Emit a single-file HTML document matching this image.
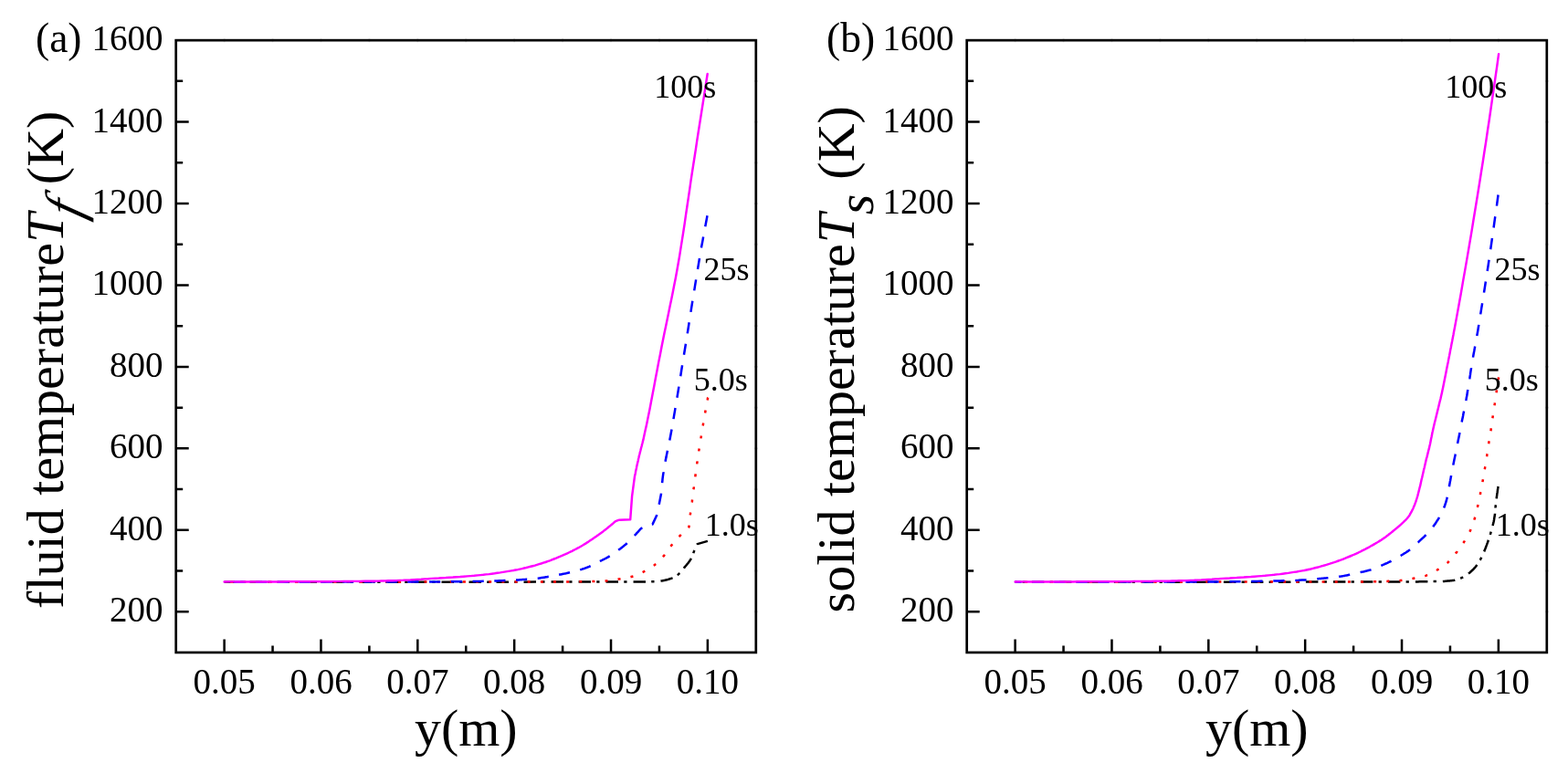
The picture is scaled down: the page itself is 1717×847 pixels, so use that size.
<!DOCTYPE html>
<html lang="en"><head><meta charset="utf-8"><title>Fluid and solid temperature profiles</title>
<style>html,body{margin:0;padding:0;background:#fff}body{width:1717px;height:847px;overflow:hidden}svg{display:block}</style>
</head><body>
<svg width="1717" height="847" viewBox="0 0 1717 847" font-family="'Liberation Serif', 'Times New Roman', serif" fill="#000">
<rect width="1717" height="847" fill="#fff"/>
<g>
<path d="M245.6 637.7 L283.5 637.7 L321.3 637.7 L359.2 637.7 L397.1 637.7 L434.9 637.7 L472.8 637.7 L510.7 637.7 L548.5 637.7 L586.4 637.6 L624.3 637.6 L662.1 637.6 L700.0 637.5 L701.1 637.5 L702.3 637.5 L703.5 637.5 L704.6 637.5 L705.8 637.5 L706.9 637.5 L708.0 637.5 L709.2 637.4 L710.3 637.4 L711.5 637.4 L712.6 637.3 L713.8 637.3 L714.6 637.3 L715.4 637.2 L716.2 637.2 L717.0 637.2 L717.8 637.1 L718.6 637.0 L719.5 637.0 L720.3 636.9 L721.1 636.8 L721.9 636.8 L722.7 636.7 L723.5 636.6 L724.7 636.5 L725.8 636.3 L727.0 636.1 L728.2 635.8 L729.3 635.5 L730.5 635.2 L731.7 634.9 L732.8 634.5 L734.0 634.1 L735.2 633.7 L736.3 633.3 L737.5 632.8 L738.1 632.5 L738.7 632.3 L739.2 631.9 L739.8 631.6 L740.4 631.2 L741.0 630.8 L741.6 630.4 L742.2 629.9 L742.8 629.4 L743.3 628.9 L743.9 628.4 L744.5 627.9 L744.9 627.5 L745.3 627.1 L745.7 626.6 L746.1 626.2 L746.5 625.6 L747.0 625.1 L747.4 624.6 L747.8 624.1 L748.2 623.5 L748.6 623.0 L749.0 622.4 L749.4 621.9 L750.0 621.1 L750.7 620.3 L751.3 619.6 L752.0 618.8 L752.6 618.0 L753.2 617.3 L753.9 616.4 L754.5 615.6 L755.2 614.7 L755.8 613.7 L756.5 612.6 L757.1 611.5 L757.4 611.0 L757.6 610.4 L757.9 609.8 L758.1 609.2 L758.4 608.5 L758.7 607.8 L758.9 607.0 L759.2 606.3 L759.4 605.6 L759.7 604.9 L759.9 604.2 L760.2 603.5 L760.4 603.0 L760.6 602.5 L760.8 602.0 L761.0 601.5 L761.2 601.0 L761.4 600.5 L761.6 600.0 L761.8 599.5 L762.0 599.1 L762.2 598.6 L762.4 598.1 L762.6 597.6 L763.6 596.1 L774.9 592.9" fill="none" stroke="#000" stroke-width="2.5" stroke-linejoin="round" stroke-dasharray="13.5 6.2 3.3 7" stroke-dashoffset="2.07"/>
<path d="M245.6 637.7 L275.1 637.7 L304.7 637.7 L334.2 637.7 L363.7 637.7 L393.3 637.7 L422.8 637.7 L452.3 637.6 L481.9 637.6 L511.4 637.6 L540.9 637.6 L570.5 637.5 L600.0 637.5 L603.3 637.5 L606.7 637.5 L610.0 637.5 L613.3 637.5 L616.7 637.4 L620.0 637.4 L623.3 637.4 L626.7 637.4 L630.0 637.3 L633.3 637.3 L636.7 637.2 L640.0 637.2 L642.1 637.2 L644.2 637.1 L646.4 637.1 L648.5 637.0 L650.6 637.0 L652.8 636.9 L654.9 636.8 L657.0 636.7 L659.1 636.6 L661.2 636.5 L663.4 636.4 L665.5 636.3 L666.7 636.2 L667.8 636.1 L669.0 636.0 L670.2 635.8 L671.3 635.6 L672.5 635.4 L673.7 635.2 L674.8 635.0 L676.0 634.8 L677.2 634.6 L678.3 634.4 L679.5 634.2 L680.7 634.0 L681.8 633.8 L683.0 633.6 L684.2 633.4 L685.3 633.2 L686.5 633.0 L687.7 632.8 L688.8 632.5 L690.0 632.3 L691.2 632.0 L692.3 631.7 L693.5 631.4 L694.6 631.1 L695.7 630.7 L696.8 630.3 L697.9 629.8 L699.0 629.3 L700.1 628.8 L701.3 628.3 L702.4 627.7 L703.5 627.2 L704.6 626.6 L705.7 626.0 L706.8 625.4 L707.8 624.8 L708.9 624.2 L709.9 623.6 L711.0 623.0 L712.0 622.3 L713.0 621.7 L714.1 621.0 L715.1 620.2 L716.2 619.5 L717.2 618.7 L718.3 617.9 L719.3 617.0 L720.1 616.3 L720.9 615.5 L721.8 614.7 L722.6 613.9 L723.4 613.0 L724.2 612.1 L725.0 611.2 L725.8 610.2 L726.6 609.3 L727.5 608.3 L728.3 607.3 L729.1 606.3 L729.7 605.5 L730.4 604.6 L731.0 603.7 L731.7 602.8 L732.3 601.9 L733.0 600.9 L733.6 600.0 L734.2 599.1 L734.9 598.1 L735.5 597.3 L736.2 596.4 L736.8 595.6 L737.6 594.6 L738.4 593.7 L739.2 592.8 L740.0 591.9 L740.8 591.0 L741.6 590.1 L742.4 589.3 L743.2 588.4 L744.0 587.6 L744.8 586.8 L745.6 586.1 L746.4 585.3 L746.9 584.8 L747.4 584.4 L747.9 583.9 L748.4 583.5 L748.9 583.0 L749.5 582.6 L750.0 582.2 L750.5 581.8 L751.0 581.4 L751.5 581.0 L752.0 580.6 L752.5 580.2 L754.4 577.5 L755.8 563.8 L756.0 562.7 L756.1 561.6 L756.3 560.4 L756.5 559.3 L756.7 558.1 L756.8 556.9 L757.0 555.6 L757.2 554.4 L757.4 553.1 L757.5 551.8 L757.7 550.5 L757.9 549.2 L758.0 548.1 L758.2 547.0 L758.3 545.8 L758.5 544.6 L758.6 543.4 L758.8 542.2 L758.9 541.0 L759.0 539.8 L759.2 538.6 L759.3 537.4 L759.5 536.2 L759.6 535.1 L759.8 533.9 L759.9 532.7 L760.1 531.5 L760.2 530.3 L760.4 529.1 L760.5 528.0 L760.7 526.8 L760.9 525.6 L761.0 524.5 L761.2 523.3 L761.3 522.2 L761.5 521.0 L761.7 519.8 L761.8 518.6 L762.0 517.4 L762.1 516.2 L762.3 515.0 L762.5 513.8 L762.6 512.6 L762.8 511.4 L762.9 510.3 L763.1 509.1 L763.2 507.9 L763.4 506.8 L763.6 505.6 L763.8 504.3 L763.9 503.1 L764.1 501.9 L764.3 500.7 L764.5 499.5 L764.6 498.4 L764.8 497.2 L765.0 496.0 L765.1 494.9 L765.3 493.7 L765.5 492.6 L765.7 491.4 L765.9 490.2 L766.0 489.1 L766.2 487.9 L766.4 486.8 L766.6 485.7 L766.8 484.5 L767.0 483.4 L767.2 482.3 L767.3 481.2 L767.5 480.0 L767.7 478.9 L767.9 477.7 L768.1 476.5 L768.3 475.3 L768.5 474.1 L768.7 472.9 L768.9 471.7 L769.0 470.5 L769.2 469.4 L769.4 468.2 L769.6 467.0 L769.8 465.9 L770.0 464.7 L770.2 463.5 L770.4 462.2 L770.6 461.0 L770.8 459.8 L771.0 458.6 L771.2 457.3 L771.5 456.1 L771.7 454.9 L771.9 453.7 L772.1 452.6 L772.3 451.4 L772.5 450.2 L772.7 449.1 L772.9 448.0 L773.1 446.8 L773.3 445.7 L773.5 444.6 L773.7 443.5 L773.9 442.4 L774.1 441.3 L774.3 440.2 L774.5 439.2 L774.7 438.1 L774.9 437.0 L774.9 436.9 L775.0 436.7 L775.0 436.6 L775.0 436.5 L775.0 436.3 L775.0 436.2 L775.1 436.1 L775.1 435.9 L775.1 435.8 L775.2 435.7 L775.2 435.5 L775.2 435.4" fill="none" stroke="#f00" stroke-width="2.5" stroke-linejoin="round" stroke-dasharray="3 11.15" stroke-dashoffset="7.53"/>
<path d="M245.6 637.7 L265.1 637.7 L284.7 637.7 L304.2 637.7 L323.7 637.7 L343.3 637.7 L362.8 637.6 L382.3 637.6 L401.9 637.6 L421.4 637.5 L440.9 637.5 L460.5 637.5 L480.0 637.4 L484.2 637.4 L488.3 637.4 L492.5 637.3 L496.7 637.3 L500.8 637.2 L505.0 637.2 L509.2 637.1 L513.3 637.1 L517.5 637.0 L521.7 636.9 L525.8 636.9 L530.0 636.8 L532.9 636.7 L535.7 636.7 L538.5 636.6 L541.4 636.5 L544.2 636.4 L547.1 636.3 L550.0 636.2 L552.8 636.1 L555.7 636.0 L558.5 635.9 L561.4 635.7 L564.2 635.6 L565.2 635.5 L566.2 635.5 L567.2 635.4 L568.2 635.4 L569.2 635.3 L570.2 635.2 L571.1 635.2 L572.1 635.1 L573.1 635.0 L574.1 634.9 L575.1 634.9 L576.1 634.8 L577.1 634.7 L578.1 634.7 L579.1 634.6 L580.1 634.5 L581.1 634.4 L582.0 634.4 L583.0 634.3 L584.0 634.2 L585.0 634.1 L586.0 634.0 L587.0 633.9 L588.0 633.8 L589.0 633.7 L590.0 633.6 L591.0 633.4 L591.9 633.3 L592.9 633.1 L593.9 633.0 L594.9 632.8 L595.9 632.7 L596.8 632.5 L597.8 632.3 L598.8 632.2 L599.8 632.0 L600.7 631.8 L601.7 631.7 L602.6 631.5 L603.5 631.4 L604.5 631.2 L605.4 631.0 L606.3 630.9 L607.3 630.7 L608.2 630.5 L609.1 630.4 L610.1 630.2 L611.0 630.0 L612.0 629.8 L613.0 629.6 L614.0 629.4 L615.0 629.2 L616.0 629.0 L617.0 628.8 L617.9 628.6 L618.9 628.4 L619.9 628.2 L620.9 627.9 L621.9 627.7 L622.9 627.5 L623.9 627.3 L624.9 627.0 L625.9 626.8 L626.9 626.6 L627.9 626.3 L628.8 626.1 L629.8 625.9 L630.8 625.6 L631.8 625.3 L632.8 625.1 L633.8 624.8 L634.8 624.5 L635.7 624.2 L636.7 623.9 L637.6 623.6 L638.5 623.3 L639.5 623.0 L640.4 622.7 L641.3 622.3 L642.3 622.0 L643.2 621.6 L644.1 621.3 L645.1 620.9 L646.0 620.5 L646.9 620.1 L647.9 619.7 L648.8 619.2 L649.7 618.8 L650.6 618.3 L651.5 617.8 L652.5 617.3 L653.4 616.9 L654.3 616.4 L655.2 615.9 L656.2 615.4 L657.1 614.9 L658.0 614.5 L658.9 614.0 L659.7 613.6 L660.6 613.1 L661.5 612.7 L662.4 612.3 L663.2 611.8 L664.1 611.4 L665.0 610.9 L665.9 610.4 L666.7 609.9 L667.6 609.4 L668.5 608.9 L669.4 608.3 L670.2 607.7 L671.1 607.2 L672.0 606.6 L672.9 606.0 L673.7 605.3 L674.6 604.7 L675.5 604.1 L676.4 603.4 L677.2 602.8 L678.1 602.1 L678.9 601.5 L679.7 600.9 L680.5 600.2 L681.4 599.6 L682.2 598.9 L683.0 598.3 L683.8 597.6 L684.6 596.9 L685.5 596.2 L686.3 595.5 L687.1 594.7 L687.9 594.0 L688.6 593.3 L689.3 592.7 L690.0 592.0 L690.7 591.2 L691.4 590.5 L692.1 589.8 L692.8 589.0 L693.5 588.3 L694.2 587.5 L694.9 586.8 L695.6 586.0 L696.3 585.3 L696.9 584.6 L697.5 584.0 L698.1 583.3 L698.8 582.6 L699.4 581.9 L700.0 581.2 L700.6 580.5 L701.2 579.9 L701.9 579.2 L702.5 578.7 L703.1 578.2 L703.7 577.7 L704.1 577.4 L704.6 577.1 L705.0 576.8 L705.5 576.6 L705.9 576.3 L706.4 576.1 L706.8 575.8 L707.2 575.6 L707.7 575.4 L708.1 575.2 L708.6 575.1 L709.0 574.9 L714.6 574.4 L719.0 565.0 L721.8 552.2 L723.9 541.6 L724.1 539.6 L724.3 537.6 L724.5 535.6 L724.6 533.7 L724.8 531.8 L725.0 530.0 L725.2 528.2 L725.4 526.5 L725.5 524.8 L725.7 523.3 L725.9 521.8 L726.1 520.4 L726.5 517.9 L726.8 515.6 L727.1 513.5 L727.5 511.4 L727.9 509.5 L728.2 507.6 L728.5 505.8 L728.9 504.1 L729.2 502.3 L729.6 500.6 L729.9 498.8 L730.3 497.0 L730.6 495.5 L730.9 494.0 L731.2 492.6 L731.5 491.2 L731.8 489.8 L732.0 488.4 L732.3 487.0 L732.6 485.7 L732.9 484.2 L733.2 482.8 L733.5 481.3 L733.8 479.8 L735.2 472.3 L736.6 464.6 L737.9 456.6 L739.3 448.4 L740.7 440.1 L742.1 431.6 L743.5 423.0 L744.9 414.4 L746.2 405.7 L747.6 397.1 L749.0 388.5 L750.4 380.0 L751.7 371.9 L753.0 363.8 L754.3 355.5 L755.6 347.2 L756.9 338.9 L758.2 330.6 L759.6 322.3 L760.9 314.1 L762.2 306.0 L763.5 298.0 L764.8 290.1 L766.1 282.4 L766.8 278.3 L767.5 274.2 L768.2 270.1 L769.0 266.1 L769.7 262.1 L770.4 258.2 L771.1 254.2 L771.8 250.4 L772.6 246.5 L773.3 242.7 L774.0 238.9 L774.7 235.1" fill="none" stroke="#00f" stroke-width="2.5" stroke-linejoin="round" stroke-dasharray="12.2 11.55" stroke-dashoffset="13.04"/>
<path d="M245.6 637.5 L252.6 637.4 L259.7 637.4 L266.7 637.4 L273.7 637.4 L280.8 637.4 L287.8 637.4 L294.8 637.4 L301.9 637.4 L308.9 637.4 L315.9 637.3 L323.0 637.3 L330.0 637.3 L335.8 637.3 L341.7 637.3 L347.5 637.2 L353.3 637.2 L359.2 637.2 L365.0 637.1 L370.8 637.1 L376.7 637.0 L382.5 637.0 L388.3 636.9 L394.2 636.9 L400.0 636.8 L402.5 636.8 L405.0 636.7 L407.5 636.7 L410.0 636.7 L412.5 636.6 L415.0 636.6 L417.5 636.5 L420.0 636.5 L422.5 636.4 L425.0 636.3 L427.5 636.3 L430.0 636.2 L433.9 636.1 L437.8 635.9 L441.6 635.8 L445.5 635.6 L449.4 635.4 L453.3 635.1 L457.2 634.9 L461.1 634.7 L465.0 634.4 L468.8 634.2 L472.7 633.9 L476.6 633.7 L480.5 633.5 L484.4 633.2 L488.2 633.0 L492.1 632.7 L496.0 632.5 L499.9 632.2 L503.8 632.0 L507.7 631.7 L511.6 631.4 L515.4 631.1 L519.3 630.8 L523.2 630.4 L526.3 630.1 L529.3 629.8 L532.4 629.4 L535.5 629.1 L538.5 628.7 L541.6 628.3 L544.7 627.8 L547.7 627.4 L550.8 626.9 L553.9 626.4 L556.9 625.9 L560.0 625.4 L562.3 625.0 L564.7 624.5 L567.0 624.1 L569.3 623.6 L571.7 623.1 L574.0 622.5 L576.3 622.0 L578.7 621.4 L581.0 620.8 L583.3 620.2 L585.7 619.6 L588.0 618.9 L590.3 618.2 L592.6 617.5 L595.0 616.7 L597.3 616.0 L599.6 615.1 L602.0 614.3 L604.3 613.4 L606.6 612.5 L608.9 611.6 L611.2 610.6 L613.6 609.7 L615.9 608.7 L617.6 607.9 L619.4 607.2 L621.1 606.4 L622.9 605.5 L624.6 604.7 L626.4 603.8 L628.1 602.9 L629.9 602.0 L631.6 601.1 L633.4 600.2 L635.1 599.2 L636.9 598.2 L638.1 597.5 L639.2 596.8 L640.4 596.1 L641.6 595.4 L642.7 594.6 L643.9 593.9 L645.1 593.1 L646.2 592.3 L647.4 591.5 L648.6 590.7 L649.7 589.9 L650.9 589.1 L651.9 588.4 L653.0 587.7 L654.0 586.9 L655.1 586.2 L656.1 585.4 L657.1 584.7 L658.2 583.9 L659.2 583.2 L660.3 582.4 L661.3 581.6 L662.4 580.8 L663.4 580.0 L663.9 579.6 L664.5 579.1 L665.0 578.7 L665.6 578.3 L666.1 577.8 L666.7 577.3 L667.2 576.9 L667.8 576.4 L668.4 576.0 L668.9 575.5 L669.5 575.1 L670.0 574.6 L670.3 574.3 L670.7 574.0 L671.0 573.8 L671.3 573.5 L671.7 573.2 L672.0 572.9 L672.3 572.6 L672.7 572.3 L673.0 572.1 L673.3 571.8 L673.7 571.5 L674.0 571.2 L678.2 569.7 L690.2 569.3 L692.1 543.7 L695.0 522.0 L695.4 520.2 L695.8 518.4 L696.1 516.6 L696.5 514.8 L696.9 513.0 L697.2 511.3 L697.6 509.5 L698.0 507.8 L698.4 506.1 L698.8 504.5 L699.1 502.8 L699.5 501.2 L699.9 499.3 L700.4 497.5 L700.8 495.8 L701.3 494.0 L701.7 492.3 L702.1 490.7 L702.6 489.0 L703.0 487.2 L703.5 485.5 L703.9 483.7 L704.4 481.9 L704.8 480.0 L706.4 472.6 L708.1 464.9 L709.7 456.9 L711.4 448.7 L713.0 440.2 L714.6 431.7 L716.3 423.0 L717.9 414.3 L719.6 405.6 L721.2 396.9 L722.9 388.4 L724.5 380.0 L726.0 372.4 L727.5 364.9 L729.1 357.5 L730.6 350.2 L732.1 342.9 L733.6 335.5 L735.2 328.0 L736.7 320.5 L738.2 312.7 L739.8 304.7 L741.3 296.5 L742.8 288.0 L744.2 280.0 L745.5 271.6 L746.9 262.9 L748.3 254.0 L749.7 244.9 L751.0 235.6 L752.4 226.3 L753.8 216.9 L755.2 207.5 L756.5 198.2 L757.9 189.0 L759.3 180.0 L760.6 171.7 L761.9 163.4 L763.1 155.1 L764.4 146.8 L765.7 138.5 L767.0 130.3 L768.3 122.0 L769.6 113.8 L770.9 105.6 L772.1 97.4 L773.4 89.2 L774.7 81.0" fill="none" stroke="#f0f" stroke-width="2.45" stroke-linecap="round" stroke-linejoin="round" />
<rect x="192.70" y="44.15" width="635.10" height="670.80" fill="none" stroke="#000" stroke-width="2.7"/>
<path d="M192.70 670.23h14.0M192.70 625.51h7.5M192.70 580.79h14.0M192.70 536.07h7.5M192.70 491.35h14.0M192.70 446.63h7.5M192.70 401.91h14.0M192.70 357.19h7.5M192.70 312.47h14.0M192.70 267.75h7.5M192.70 223.03h14.0M192.70 178.31h7.5M192.70 133.59h14.0M192.70 88.87h7.5M245.63 714.95v-14.5M298.55 714.95v-7.5M351.47 714.95v-14.5M404.40 714.95v-7.5M457.32 714.95v-14.5M510.25 714.95v-7.5M563.17 714.95v-14.5M616.10 714.95v-7.5M669.02 714.95v-14.5M721.95 714.95v-7.5M774.87 714.95v-14.5" stroke="#000" stroke-width="2.5" fill="none"/>
<path d="M825.80 670.23h4M825.80 625.51h4M825.80 580.79h4M825.80 536.07h4M825.80 491.35h4M825.80 446.63h4M825.80 401.91h4M825.80 357.19h4M825.80 312.47h4M825.80 267.75h4M825.80 223.03h4M825.80 178.31h4M825.80 133.59h4M825.80 88.87h4M245.63 42.15v4M298.55 42.15v4M351.47 42.15v4M404.40 42.15v4M457.32 42.15v4M510.25 42.15v4M563.17 42.15v4M616.10 42.15v4M669.02 42.15v4M721.95 42.15v4M774.87 42.15v4" stroke="#000" stroke-opacity="0.13" stroke-width="1.8" fill="none"/>
<g font-size="39" text-anchor="end">
<text x="178.5" y="681.1">200</text>
<text x="178.5" y="591.7">400</text>
<text x="178.5" y="502.2">600</text>
<text x="178.5" y="412.8">800</text>
<text x="178.5" y="323.4">1000</text>
<text x="178.5" y="233.9">1200</text>
<text x="178.5" y="144.5">1400</text>
<text x="178.5" y="55.0">1600</text>
</g><g font-size="39" text-anchor="middle">
<text x="245.6" y="759.7">0.05</text>
<text x="351.5" y="759.7">0.06</text>
<text x="457.3" y="759.7">0.07</text>
<text x="563.2" y="759.7">0.08</text>
<text x="669.0" y="759.7">0.09</text>
<text x="774.9" y="759.7">0.10</text>
</g>
<g font-size="36"><text x="716.3" y="107">100s</text><text x="770.6" y="306.8">25s</text><text x="759.8" y="428">5.0s</text><text x="771.7" y="587.4">1.0s</text></g>
<text font-size="45.5" x="39.0" y="56.8">(a)</text>
<text font-size="58" x="510.3" y="817.4" text-anchor="middle">y(m)</text>
<text font-size="58" transform="translate(69.2 0) rotate(-90)" style="font-kerning:none;font-variant-ligatures:none"><tspan x="-666.9">fluid temperature</tspan><tspan font-style="italic" x="-265.8">T</tspan><tspan x="-202.2">(K)</tspan></text>
<text font-size="58" font-style="italic" transform="translate(89.6 240.9) rotate(-90) skewX(-15.5)">f</text>
</g>
<g>
<path d="M1111.6 637.7 L1147.3 637.7 L1183.0 637.7 L1218.7 637.7 L1254.4 637.7 L1290.1 637.7 L1325.8 637.7 L1361.5 637.7 L1397.2 637.7 L1432.9 637.6 L1468.6 637.6 L1504.3 637.6 L1540.0 637.5 L1541.8 637.5 L1543.6 637.5 L1545.4 637.5 L1547.2 637.5 L1549.0 637.4 L1550.8 637.4 L1552.6 637.4 L1554.4 637.3 L1556.2 637.3 L1558.0 637.3 L1559.8 637.2 L1561.6 637.2 L1563.0 637.2 L1564.4 637.2 L1565.8 637.2 L1567.2 637.1 L1568.6 637.1 L1570.0 637.1 L1571.4 637.1 L1572.8 637.1 L1574.2 637.1 L1575.6 637.1 L1577.0 637.0 L1578.4 637.0 L1579.5 637.0 L1580.6 636.9 L1581.7 636.9 L1582.8 636.8 L1583.9 636.7 L1585.0 636.6 L1586.1 636.5 L1587.2 636.4 L1588.3 636.3 L1589.4 636.2 L1590.5 636.0 L1591.6 635.9 L1592.3 635.8 L1592.9 635.7 L1593.6 635.5 L1594.3 635.4 L1595.0 635.2 L1595.7 635.0 L1596.3 634.7 L1597.0 634.5 L1597.7 634.3 L1598.3 634.0 L1599.0 633.8 L1599.7 633.5 L1600.4 633.2 L1601.0 632.9 L1601.7 632.6 L1602.3 632.3 L1603.0 631.9 L1603.6 631.5 L1604.2 631.1 L1604.9 630.7 L1605.5 630.3 L1606.2 629.8 L1606.8 629.4 L1607.5 628.9 L1608.3 628.3 L1609.1 627.7 L1609.9 627.0 L1610.7 626.3 L1611.5 625.5 L1612.3 624.8 L1613.2 624.0 L1614.0 623.1 L1614.8 622.2 L1615.6 621.3 L1616.4 620.3 L1617.2 619.3 L1617.6 618.8 L1617.9 618.3 L1618.3 617.8 L1618.7 617.2 L1619.0 616.6 L1619.4 616.0 L1619.8 615.4 L1620.1 614.7 L1620.5 614.0 L1620.9 613.4 L1621.2 612.7 L1621.6 612.0 L1621.9 611.4 L1622.2 610.7 L1622.6 610.1 L1622.9 609.4 L1623.2 608.7 L1623.5 608.0 L1623.9 607.3 L1624.2 606.5 L1624.5 605.8 L1624.8 605.0 L1625.2 604.3 L1625.5 603.5 L1625.9 602.6 L1626.2 601.7 L1626.6 600.8 L1627.0 599.8 L1627.3 598.9 L1627.7 597.9 L1628.1 596.9 L1628.4 595.9 L1628.8 594.9 L1629.2 593.8 L1629.5 592.8 L1629.9 591.7 L1630.1 591.1 L1630.3 590.6 L1630.5 590.0 L1630.7 589.4 L1630.9 588.8 L1631.1 588.2 L1631.2 587.6 L1631.4 587.0 L1631.6 586.4 L1631.8 585.7 L1632.0 585.1 L1632.2 584.4 L1632.6 583.1 L1633.0 581.8 L1633.3 580.5 L1633.7 579.3 L1634.1 577.9 L1634.5 576.5 L1634.8 575.0 L1635.2 573.4 L1635.6 571.7 L1636.0 569.7 L1636.3 567.6 L1636.7 565.2 L1636.8 564.6 L1636.9 563.9 L1637.0 563.1 L1637.0 562.2 L1637.1 561.3 L1637.2 560.3 L1637.3 559.3 L1637.4 558.3 L1637.5 557.3 L1637.5 556.4 L1637.6 555.5 L1637.7 554.7 L1637.8 553.9 L1637.9 553.2 L1638.0 552.4 L1638.0 551.7 L1638.1 551.0 L1638.2 550.2 L1638.3 549.5 L1638.4 548.9 L1638.5 548.2 L1638.5 547.5 L1638.6 546.8 L1638.7 546.2 L1638.9 545.0 L1639.0 543.8 L1639.2 542.6 L1639.3 541.4 L1639.5 540.3 L1639.7 539.2 L1639.8 538.1 L1640.0 537.0 L1640.1 536.0 L1640.3 534.9 L1640.4 534.0 L1640.6 533.0" fill="none" stroke="#000" stroke-width="2.5" stroke-linejoin="round" stroke-dasharray="13.5 6.2 3.3 7" stroke-dashoffset="11.71"/>
<path d="M1111.6 637.7 L1141.1 637.7 L1170.7 637.7 L1200.2 637.7 L1229.7 637.7 L1259.3 637.7 L1288.8 637.7 L1318.3 637.6 L1347.9 637.6 L1377.4 637.6 L1406.9 637.6 L1436.5 637.5 L1466.0 637.5 L1469.3 637.5 L1472.7 637.5 L1476.0 637.5 L1479.3 637.5 L1482.7 637.4 L1486.0 637.4 L1489.3 637.4 L1492.7 637.4 L1496.0 637.3 L1499.3 637.3 L1502.7 637.2 L1506.0 637.2 L1508.1 637.2 L1510.1 637.1 L1512.2 637.1 L1514.3 637.0 L1516.3 637.0 L1518.4 636.9 L1520.5 636.8 L1522.5 636.7 L1524.6 636.6 L1526.7 636.5 L1528.7 636.4 L1530.8 636.3 L1532.0 636.2 L1533.2 636.1 L1534.5 636.0 L1535.7 635.8 L1536.9 635.6 L1538.2 635.4 L1539.4 635.2 L1540.6 635.0 L1541.8 634.8 L1543.0 634.6 L1544.3 634.4 L1545.5 634.2 L1546.7 634.0 L1547.8 633.8 L1549.0 633.6 L1550.2 633.4 L1551.3 633.2 L1552.5 633.0 L1553.7 632.8 L1554.8 632.5 L1556.0 632.3 L1557.2 632.0 L1558.3 631.7 L1559.5 631.4 L1560.6 631.1 L1561.7 630.7 L1562.8 630.2 L1563.9 629.8 L1565.0 629.3 L1566.2 628.7 L1567.3 628.2 L1568.4 627.6 L1569.5 627.0 L1570.6 626.3 L1571.7 625.7 L1572.8 625.1 L1573.8 624.5 L1574.8 623.9 L1575.9 623.3 L1576.9 622.7 L1577.9 622.0 L1578.9 621.3 L1580.0 620.6 L1581.0 619.9 L1582.0 619.1 L1583.0 618.3 L1584.1 617.5 L1585.1 616.6 L1585.9 615.9 L1586.6 615.1 L1587.4 614.3 L1588.2 613.5 L1589.0 612.6 L1589.8 611.7 L1590.5 610.8 L1591.3 609.8 L1592.1 608.8 L1592.9 607.9 L1593.6 606.9 L1594.4 605.9 L1595.1 605.0 L1595.8 604.2 L1596.4 603.3 L1597.1 602.4 L1597.8 601.5 L1598.5 600.6 L1599.1 599.7 L1599.8 598.7 L1600.5 597.7 L1601.2 596.7 L1601.8 595.7 L1602.5 594.7 L1603.1 593.8 L1603.7 592.9 L1604.2 592.0 L1604.8 591.0 L1605.4 590.1 L1606.0 589.1 L1606.6 588.1 L1607.2 587.1 L1607.8 586.0 L1608.3 584.9 L1608.9 583.7 L1609.5 582.5 L1609.9 581.6 L1610.3 580.7 L1610.7 579.8 L1611.1 578.8 L1611.5 577.7 L1611.9 576.7 L1612.3 575.6 L1612.7 574.5 L1613.1 573.3 L1613.5 572.1 L1613.9 570.9 L1614.3 569.6 L1614.6 568.6 L1614.9 567.6 L1615.2 566.5 L1615.5 565.4 L1615.8 564.3 L1616.1 563.1 L1616.4 561.9 L1616.7 560.7 L1617.0 559.5 L1617.3 558.2 L1617.6 557.0 L1617.9 555.7 L1618.1 554.7 L1618.4 553.6 L1618.6 552.5 L1618.9 551.4 L1619.1 550.3 L1619.3 549.2 L1619.6 548.0 L1619.8 546.9 L1620.1 545.7 L1620.3 544.5 L1620.6 543.3 L1620.8 542.1 L1621.0 541.0 L1621.2 539.9 L1621.5 538.8 L1621.7 537.7 L1621.9 536.5 L1622.1 535.4 L1622.3 534.2 L1622.5 533.1 L1622.8 531.9 L1623.0 530.7 L1623.2 529.5 L1623.4 528.3 L1623.6 527.2 L1623.8 526.0 L1624.0 524.9 L1624.2 523.7 L1624.4 522.6 L1624.6 521.4 L1624.8 520.2 L1625.0 519.0 L1625.2 517.8 L1625.4 516.6 L1625.6 515.4 L1625.8 514.2 L1626.0 513.0 L1626.2 511.9 L1626.4 510.7 L1626.6 509.6 L1626.8 508.4 L1626.9 507.2 L1627.1 506.0 L1627.3 504.9 L1627.5 503.7 L1627.7 502.5 L1627.9 501.2 L1628.1 500.0 L1628.3 498.9 L1628.4 497.7 L1628.6 496.5 L1628.8 495.3 L1629.0 494.1 L1629.2 492.9 L1629.3 491.7 L1629.5 490.5 L1629.7 489.3 L1629.8 488.1 L1630.0 486.9 L1630.2 485.8 L1630.4 484.6 L1630.6 483.4 L1630.8 482.2 L1631.0 481.1 L1631.2 479.9 L1631.3 478.8 L1631.5 477.7 L1631.7 476.5 L1631.9 475.3 L1632.1 474.2 L1632.3 472.9 L1632.5 471.7 L1632.7 470.6 L1632.8 469.4 L1633.0 468.3 L1633.2 467.1 L1633.3 465.9 L1633.5 464.7 L1633.7 463.5 L1633.8 462.3 L1634.0 461.0 L1634.2 459.8 L1634.3 458.7 L1634.5 457.5 L1634.7 456.3 L1634.8 455.1 L1635.0 453.9 L1635.2 452.7 L1635.4 451.6 L1635.5 450.4 L1635.7 449.2 L1635.9 448.1 L1636.1 446.9 L1636.2 445.7 L1636.4 444.6 L1636.6 443.4 L1636.8 442.2 L1636.9 441.0 L1637.1 439.8 L1637.3 438.7 L1637.5 437.5 L1637.7 436.3 L1637.8 435.1 L1638.0 433.9 L1638.2 432.7 L1638.3 431.5 L1638.5 430.4 L1638.7 429.2 L1638.9 428.0 L1639.1 426.8 L1639.2 425.5 L1639.4 424.3 L1639.6 423.1 L1639.8 421.9 L1640.0 420.7 L1640.2 419.5 L1640.4 418.3 L1640.5 417.1 L1640.7 415.9 L1640.9 414.7 L1640.9 414.6 L1640.9 414.4 L1641.0 414.3 L1641.0 414.2 L1641.0 414.0 L1641.0 413.9 L1641.0 413.8 L1641.1 413.6 L1641.1 413.5 L1641.1 413.4 L1641.1 413.2 L1641.2 413.1" fill="none" stroke="#f00" stroke-width="2.5" stroke-linejoin="round" stroke-dasharray="3 11.15" stroke-dashoffset="3.63"/>
<path d="M1111.6 637.7 L1129.9 637.7 L1148.2 637.7 L1166.4 637.7 L1184.7 637.7 L1203.0 637.7 L1221.3 637.6 L1239.6 637.6 L1257.9 637.6 L1276.2 637.5 L1294.4 637.5 L1312.7 637.5 L1331.0 637.4 L1335.2 637.4 L1339.3 637.4 L1343.5 637.3 L1347.7 637.3 L1351.8 637.2 L1356.0 637.2 L1360.2 637.1 L1364.3 637.1 L1368.5 637.0 L1372.7 636.9 L1376.8 636.9 L1381.0 636.8 L1385.1 636.7 L1389.2 636.7 L1393.2 636.6 L1397.3 636.5 L1401.4 636.4 L1405.5 636.3 L1409.6 636.2 L1413.7 636.0 L1417.8 635.9 L1421.8 635.8 L1425.9 635.6 L1430.0 635.4 L1431.1 635.3 L1432.2 635.3 L1433.4 635.2 L1434.5 635.1 L1435.6 635.0 L1436.8 634.9 L1437.9 634.8 L1439.0 634.7 L1440.1 634.5 L1441.2 634.4 L1442.4 634.3 L1443.5 634.2 L1444.4 634.1 L1445.4 634.0 L1446.3 633.9 L1447.2 633.8 L1448.2 633.8 L1449.1 633.7 L1450.0 633.6 L1451.0 633.5 L1451.9 633.4 L1452.8 633.3 L1453.8 633.2 L1454.7 633.1 L1455.7 633.0 L1456.8 632.9 L1457.8 632.8 L1458.9 632.7 L1459.9 632.6 L1461.0 632.5 L1462.0 632.3 L1463.0 632.2 L1464.1 632.1 L1465.1 632.0 L1466.2 631.8 L1467.2 631.7 L1468.1 631.6 L1469.1 631.4 L1470.0 631.3 L1470.9 631.1 L1471.9 630.9 L1472.8 630.7 L1473.7 630.6 L1474.7 630.4 L1475.6 630.2 L1476.5 630.0 L1477.5 629.8 L1478.4 629.6 L1479.5 629.4 L1480.5 629.2 L1481.6 628.9 L1482.6 628.7 L1483.7 628.5 L1484.7 628.3 L1485.8 628.0 L1486.8 627.8 L1487.8 627.5 L1488.9 627.3 L1490.0 627.0 L1491.0 626.8 L1491.9 626.6 L1492.9 626.4 L1493.8 626.2 L1494.7 625.9 L1495.7 625.7 L1496.6 625.5 L1497.5 625.3 L1498.5 625.0 L1499.4 624.8 L1500.3 624.6 L1501.3 624.3 L1502.2 624.0 L1503.2 623.7 L1504.2 623.3 L1505.2 623.0 L1506.1 622.6 L1507.1 622.2 L1508.1 621.7 L1509.1 621.3 L1510.1 620.9 L1511.0 620.4 L1512.0 620.0 L1513.0 619.5 L1514.0 619.1 L1514.9 618.7 L1515.8 618.3 L1516.6 617.9 L1517.5 617.5 L1518.4 617.2 L1519.2 616.8 L1520.1 616.3 L1521.0 615.9 L1521.9 615.5 L1522.8 615.1 L1523.6 614.6 L1524.5 614.2 L1525.4 613.7 L1526.4 613.2 L1527.3 612.7 L1528.2 612.2 L1529.2 611.6 L1530.1 611.1 L1531.0 610.5 L1532.0 610.0 L1532.9 609.4 L1533.8 608.9 L1534.8 608.3 L1535.7 607.7 L1536.5 607.2 L1537.3 606.7 L1538.2 606.2 L1539.0 605.7 L1539.8 605.2 L1540.6 604.6 L1541.4 604.1 L1542.2 603.6 L1543.0 603.0 L1543.9 602.4 L1544.7 601.8 L1545.5 601.2 L1546.3 600.6 L1547.0 599.9 L1547.8 599.3 L1548.5 598.6 L1549.3 597.8 L1550.0 597.1 L1550.8 596.3 L1551.6 595.6 L1552.3 594.8 L1553.1 594.1 L1553.8 593.3 L1554.6 592.6 L1555.3 591.9 L1556.0 591.3 L1556.7 590.6 L1557.4 590.0 L1558.1 589.4 L1558.8 588.7 L1559.5 588.1 L1560.2 587.4 L1560.9 586.7 L1561.6 586.0 L1562.3 585.3 L1563.0 584.5 L1564.0 583.4 L1565.0 582.2 L1566.1 581.0 L1567.1 579.8 L1568.1 578.5 L1569.2 577.2 L1570.2 575.8 L1571.2 574.4 L1572.2 573.0 L1573.2 571.4 L1574.3 569.8 L1575.3 568.1 L1576.0 567.0 L1576.6 565.8 L1577.3 564.6 L1578.0 563.4 L1578.6 562.1 L1579.3 560.7 L1580.0 559.3 L1580.6 557.7 L1581.3 556.1 L1582.0 554.3 L1582.6 552.4 L1583.3 550.4 L1583.7 548.9 L1584.2 547.1 L1584.6 545.2 L1585.1 543.1 L1585.5 540.8 L1585.9 538.5 L1586.4 536.1 L1586.8 533.6 L1587.3 531.1 L1587.7 528.6 L1588.2 526.2 L1588.6 523.9 L1588.8 522.6 L1589.1 521.4 L1589.3 520.1 L1589.6 518.8 L1589.8 517.5 L1590.0 516.2 L1590.3 514.9 L1590.5 513.6 L1590.8 512.3 L1591.0 511.0 L1591.3 509.7 L1591.5 508.5 L1591.9 506.5 L1592.3 504.5 L1592.7 502.6 L1593.1 500.7 L1593.5 498.7 L1593.8 496.8 L1594.2 494.9 L1594.6 493.0 L1595.0 491.1 L1595.4 489.2 L1595.8 487.3 L1596.2 485.3 L1596.6 483.3 L1597.0 481.3 L1597.4 479.4 L1597.8 477.4 L1598.2 475.4 L1598.6 473.4 L1598.9 471.3 L1599.3 469.3 L1599.7 467.3 L1600.1 465.3 L1600.5 463.3 L1600.9 461.3 L1601.3 459.3 L1601.7 457.4 L1602.1 455.5 L1602.4 453.6 L1602.8 451.7 L1603.2 449.8 L1603.6 447.8 L1604.0 445.9 L1604.3 443.9 L1604.7 441.9 L1605.1 439.8 L1605.5 437.7 L1605.8 435.9 L1606.2 434.0 L1606.5 432.2 L1606.8 430.2 L1607.1 428.3 L1607.5 426.4 L1607.8 424.4 L1608.1 422.4 L1608.4 420.4 L1608.8 418.3 L1609.1 416.3 L1609.4 414.2 L1609.5 413.3 L1609.7 412.3 L1609.8 411.4 L1610.0 410.4 L1610.1 409.4 L1610.2 408.5 L1610.4 407.5 L1610.5 406.5 L1610.7 405.6 L1610.8 404.6 L1611.0 403.7 L1611.1 402.8 L1611.7 398.9 L1612.4 395.2 L1613.0 391.6 L1613.6 388.0 L1614.3 384.5 L1614.9 381.1 L1615.5 377.7 L1616.2 374.2 L1616.8 370.8 L1617.4 367.2 L1618.1 363.6 L1618.7 359.8 L1620.5 348.7 L1622.3 337.4 L1624.2 325.9 L1626.0 314.3 L1627.8 302.4 L1629.7 290.4 L1631.5 278.1 L1633.3 265.6 L1635.1 252.9 L1636.9 239.9 L1638.8 226.7 L1640.6 213.2" fill="none" stroke="#00f" stroke-width="2.5" stroke-linejoin="round" stroke-dasharray="12.3 11.7" stroke-dashoffset="5.31"/>
<path d="M1111.6 637.5 L1118.6 637.4 L1125.7 637.4 L1132.7 637.4 L1139.7 637.4 L1146.8 637.4 L1153.8 637.4 L1160.8 637.4 L1167.9 637.4 L1174.9 637.4 L1181.9 637.3 L1189.0 637.3 L1196.0 637.3 L1201.8 637.3 L1207.7 637.3 L1213.5 637.2 L1219.3 637.2 L1225.2 637.2 L1231.0 637.1 L1236.8 637.1 L1242.7 637.0 L1248.5 637.0 L1254.3 636.9 L1260.2 636.9 L1266.0 636.8 L1268.5 636.8 L1271.0 636.7 L1273.5 636.7 L1276.0 636.7 L1278.5 636.6 L1281.0 636.6 L1283.5 636.5 L1286.0 636.5 L1288.5 636.4 L1291.0 636.3 L1293.5 636.3 L1296.0 636.2 L1299.9 636.1 L1303.8 635.9 L1307.7 635.8 L1311.5 635.6 L1315.4 635.4 L1319.3 635.1 L1323.2 634.9 L1327.1 634.7 L1330.9 634.4 L1334.8 634.2 L1338.7 633.9 L1342.6 633.7 L1346.5 633.5 L1350.4 633.2 L1354.2 633.0 L1358.1 632.7 L1362.0 632.5 L1365.9 632.2 L1369.8 632.0 L1373.7 631.7 L1377.5 631.4 L1381.4 631.1 L1385.3 630.8 L1389.2 630.4 L1392.3 630.1 L1395.3 629.8 L1398.4 629.4 L1401.5 629.1 L1404.5 628.7 L1407.6 628.3 L1410.7 627.9 L1413.7 627.4 L1416.8 626.9 L1419.9 626.5 L1422.9 625.9 L1426.0 625.4 L1428.3 625.0 L1430.7 624.5 L1433.0 624.0 L1435.3 623.5 L1437.7 622.9 L1440.0 622.3 L1442.3 621.7 L1444.7 621.1 L1447.0 620.4 L1449.3 619.8 L1451.7 619.1 L1454.0 618.4 L1456.3 617.7 L1458.7 616.9 L1461.0 616.2 L1463.3 615.4 L1465.6 614.5 L1468.0 613.7 L1470.3 612.8 L1472.6 611.9 L1474.9 610.9 L1477.2 610.0 L1479.6 609.0 L1481.9 608.0 L1483.5 607.3 L1485.1 606.6 L1486.8 605.8 L1488.4 605.0 L1490.0 604.3 L1491.6 603.4 L1493.2 602.6 L1494.8 601.8 L1496.5 600.9 L1498.1 600.1 L1499.7 599.2 L1501.3 598.3 L1502.4 597.7 L1503.5 597.1 L1504.6 596.4 L1505.7 595.8 L1506.8 595.1 L1507.9 594.5 L1509.1 593.8 L1510.2 593.1 L1511.3 592.4 L1512.4 591.7 L1513.5 590.9 L1514.6 590.2 L1515.7 589.4 L1516.8 588.7 L1517.9 587.9 L1519.0 587.0 L1520.1 586.2 L1521.2 585.3 L1522.3 584.5 L1523.4 583.6 L1524.5 582.7 L1525.6 581.8 L1526.7 580.9 L1527.8 580.0 L1528.6 579.3 L1529.4 578.7 L1530.2 578.0 L1531.0 577.3 L1531.8 576.7 L1532.5 576.0 L1533.3 575.3 L1534.1 574.6 L1534.9 573.8 L1535.7 573.1 L1536.5 572.4 L1537.3 571.6 L1537.7 571.2 L1538.1 570.8 L1538.5 570.5 L1538.9 570.1 L1539.3 569.7 L1539.7 569.3 L1540.0 568.9 L1540.4 568.5 L1540.8 568.0 L1541.2 567.6 L1541.6 567.1 L1542.0 566.6 L1542.3 566.2 L1542.6 565.7 L1543.0 565.3 L1543.3 564.8 L1543.6 564.3 L1543.9 563.7 L1544.2 563.2 L1544.5 562.6 L1544.8 562.1 L1545.2 561.5 L1545.5 560.9 L1545.8 560.3 L1546.2 559.6 L1546.5 558.8 L1546.9 558.1 L1547.3 557.3 L1547.7 556.4 L1548.0 555.6 L1548.4 554.7 L1548.8 553.8 L1549.2 552.9 L1549.5 551.9 L1549.9 550.9 L1550.3 549.9 L1550.6 549.0 L1550.9 548.0 L1551.2 547.0 L1551.5 546.0 L1551.8 544.9 L1552.2 543.8 L1552.5 542.6 L1552.8 541.5 L1553.1 540.3 L1553.4 539.1 L1553.7 537.9 L1554.0 536.7 L1554.3 535.5 L1554.6 534.2 L1555.0 532.9 L1555.3 531.6 L1555.6 530.2 L1555.9 528.8 L1556.2 527.5 L1556.5 526.1 L1556.8 524.7 L1557.2 523.3 L1557.5 522.0 L1557.8 520.6 L1558.1 519.3 L1558.4 517.9 L1558.7 516.6 L1559.0 515.2 L1559.3 513.9 L1559.7 512.5 L1560.0 511.2 L1560.3 509.8 L1560.6 508.5 L1560.9 507.2 L1561.2 505.9 L1561.5 504.6 L1561.8 503.3 L1562.1 502.0 L1562.5 500.8 L1562.8 499.6 L1563.1 498.4 L1563.4 497.1 L1563.7 495.9 L1564.0 494.7 L1564.3 493.4 L1564.7 492.2 L1565.0 490.9 L1565.3 489.5 L1565.6 488.1 L1566.0 486.6 L1566.3 485.0 L1566.6 483.4 L1566.9 481.8 L1567.2 480.2 L1567.6 478.6 L1567.9 477.0 L1568.2 475.4 L1568.5 473.8 L1568.9 472.3 L1569.2 470.8 L1570.0 467.2 L1570.8 463.7 L1571.7 460.3 L1572.5 457.0 L1573.3 453.7 L1574.1 450.4 L1574.9 447.2 L1575.7 443.9 L1576.5 440.5 L1577.4 437.1 L1578.2 433.6 L1579.0 429.9 L1579.5 427.6 L1580.0 425.2 L1580.5 422.8 L1581.0 420.3 L1581.5 417.8 L1582.0 415.3 L1582.5 412.8 L1583.0 410.2 L1583.5 407.7 L1584.0 405.1 L1584.5 402.5 L1585.0 400.0 L1585.7 396.7 L1586.3 393.4 L1587.0 390.1 L1587.6 386.9 L1588.2 383.6 L1588.9 380.2 L1589.5 376.9 L1590.2 373.5 L1590.8 370.2 L1591.5 366.7 L1592.1 363.3 L1592.8 359.8 L1595.1 347.4 L1597.4 334.8 L1599.7 322.0 L1601.9 309.1 L1604.2 296.1 L1606.5 282.9 L1608.8 269.5 L1611.1 255.9 L1613.3 242.2 L1615.6 228.3 L1617.9 214.2 L1620.2 200.0 L1621.9 189.0 L1623.7 177.8 L1625.4 166.5 L1627.2 155.1 L1628.9 143.5 L1630.7 131.8 L1632.4 120.0 L1634.1 108.1 L1635.9 96.0 L1637.6 83.8 L1639.4 71.6 L1641.1 59.2" fill="none" stroke="#f0f" stroke-width="2.45" stroke-linecap="round" stroke-linejoin="round" />
<rect x="1058.70" y="44.15" width="635.10" height="670.80" fill="none" stroke="#000" stroke-width="2.7"/>
<path d="M1058.70 670.23h14.0M1058.70 625.51h7.5M1058.70 580.79h14.0M1058.70 536.07h7.5M1058.70 491.35h14.0M1058.70 446.63h7.5M1058.70 401.91h14.0M1058.70 357.19h7.5M1058.70 312.47h14.0M1058.70 267.75h7.5M1058.70 223.03h14.0M1058.70 178.31h7.5M1058.70 133.59h14.0M1058.70 88.87h7.5M1111.62 714.95v-14.5M1164.55 714.95v-7.5M1217.47 714.95v-14.5M1270.40 714.95v-7.5M1323.32 714.95v-14.5M1376.25 714.95v-7.5M1429.17 714.95v-14.5M1482.10 714.95v-7.5M1535.02 714.95v-14.5M1587.95 714.95v-7.5M1640.87 714.95v-14.5" stroke="#000" stroke-width="2.5" fill="none"/>
<path d="M1691.80 670.23h4M1691.80 625.51h4M1691.80 580.79h4M1691.80 536.07h4M1691.80 491.35h4M1691.80 446.63h4M1691.80 401.91h4M1691.80 357.19h4M1691.80 312.47h4M1691.80 267.75h4M1691.80 223.03h4M1691.80 178.31h4M1691.80 133.59h4M1691.80 88.87h4M1111.62 42.15v4M1164.55 42.15v4M1217.47 42.15v4M1270.40 42.15v4M1323.32 42.15v4M1376.25 42.15v4M1429.17 42.15v4M1482.10 42.15v4M1535.02 42.15v4M1587.95 42.15v4M1640.87 42.15v4" stroke="#000" stroke-opacity="0.13" stroke-width="1.8" fill="none"/>
<g font-size="39" text-anchor="end">
<text x="1044.5" y="681.1">200</text>
<text x="1044.5" y="591.7">400</text>
<text x="1044.5" y="502.2">600</text>
<text x="1044.5" y="412.8">800</text>
<text x="1044.5" y="323.4">1000</text>
<text x="1044.5" y="233.9">1200</text>
<text x="1044.5" y="144.5">1400</text>
<text x="1044.5" y="55.0">1600</text>
</g><g font-size="39" text-anchor="middle">
<text x="1111.6" y="759.7">0.05</text>
<text x="1217.5" y="759.7">0.06</text>
<text x="1323.3" y="759.7">0.07</text>
<text x="1429.2" y="759.7">0.08</text>
<text x="1535.0" y="759.7">0.09</text>
<text x="1640.9" y="759.7">0.10</text>
</g>
<g font-size="36"><text x="1582.3" y="107">100s</text><text x="1636.6" y="306.8">25s</text><text x="1625.8" y="428">5.0s</text><text x="1637.7" y="587.4">1.0s</text></g>
<text font-size="45.5" x="905.0" y="56.8">(b)</text>
<text font-size="58" x="1376.3" y="817.4" text-anchor="middle">y(m)</text>
<text font-size="58" transform="translate(935.2 0) rotate(-90)" style="font-kerning:none;font-variant-ligatures:none"><tspan x="-671.4">solid temperature</tspan><tspan font-style="italic" x="-266.3">T</tspan><tspan x="-196.7">(K)</tspan></text>
<text font-size="58" font-style="italic" transform="translate(955.8 235.2) rotate(-90)">s</text>
</g>
</svg>
</body></html>
